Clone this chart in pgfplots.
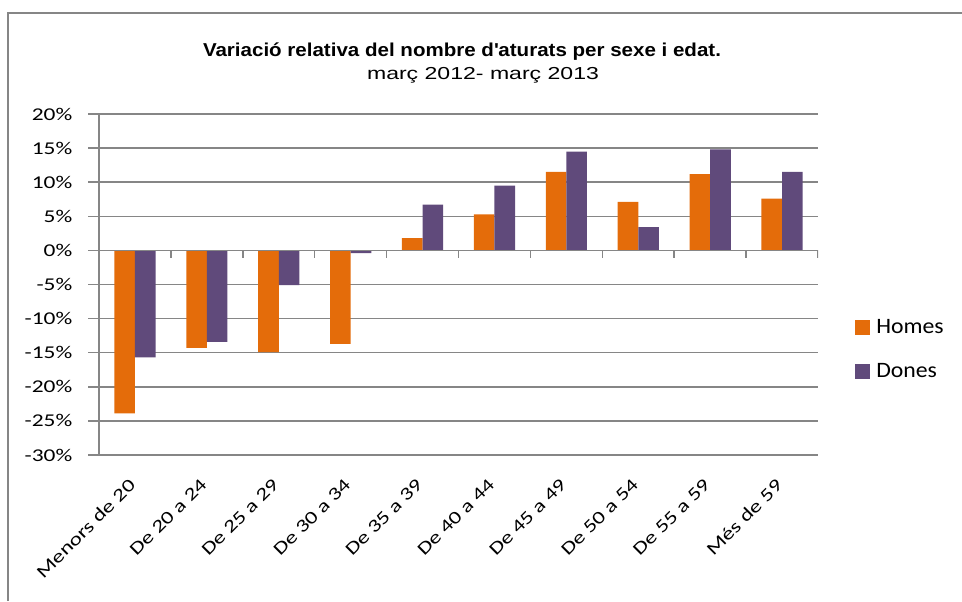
\documentclass[border=0pt]{standalone}
\usepackage{pgfplots}
\pgfplotsset{compat=1.18}
\usepackage{fontspec}
\setmainfont{Carlito}
\newfontfamily\tickf[FakeStretch=1.3]{Carlito}
\newfontfamily\legf[FakeStretch=1.08]{Carlito}
\newfontfamily\titlef[FakeStretch=1.1]{Liberation Sans}
\newfontfamily\subf[FakeStretch=1.33]{Liberation Sans}

\definecolor{homes}{RGB}{228,108,10}
\definecolor{dones}{RGB}{96,74,123}
\definecolor{gridgray}{RGB}{134,134,134}

\begin{document}
\begin{tikzpicture}
% page frame, in pixels of the reference (962 x 601)
\begin{scope}[x=0.75pt,y=-0.75pt]
  \path[use as bounding box] (0,0) rectangle (962,601);
  \draw[gridgray, line width=1.4pt] (8,601) -- (8,13) -- (962,13);
  \node[anchor=base, font=\titlef\bfseries\fontsize{14}{16}\selectfont]
    at (462,56) {Variació relativa del nombre d\textquotesingle aturats per sexe i edat.};
  \node[anchor=base, font=\subf\fontsize{13}{15}\selectfont]
    at (483,79) {març 2012- març 2013};
\end{scope}

\begin{axis}[
  at={(74.25pt,-341.25pt)}, anchor=south west,
  scale only axis,
  width=539.25pt, height=255.75pt,
  /pgfplots/ybar legend/.style={/pgfplots/legend image code/.code={%
      \fill[##1, draw=none] (0pt,-5.5pt) rectangle (11pt,5.5pt);}},
  ybar=0pt, bar width=15.45pt,
  xmin=-0.5, xmax=9.5,
  ymin=-30, ymax=20,
  axis x line*=bottom,
  axis y line*=left,
  axis line style={gridgray, line width=1.1pt},
  xtick={0,...,9},
  xticklabels={Menors de 20, De 20 a 24, De 25 a 29, De 30 a 34, De 35 a 39,
               De 40 a 44, De 45 a 49, De 50 a 54, De 55 a 59, Més de 59},
  x tick style={draw=none},
  ytick={-30,-25,...,20},
  y tick style={gridgray, line width=1.1pt},
  tick align=outside,
  major tick length=8pt,
  ymajorgrids,
  major grid style={gridgray, line width=1.1pt},
  yticklabel={\pgfmathprintnumber{\tick}\%},
  /pgf/number format/assume math mode=true,
  ticklabel style={font=\tickf\fontsize{13.5}{15}\selectfont},
  yticklabel style={xshift=-8.5pt},
  xticklabel style={xshift=-5.5pt, yshift=-5.8pt, rotate=45,
    anchor=north east, inner sep=2pt},
  legend style={at={(1.051,0.309)}, anchor=west, draw=none, fill=none,
    font=\legf\fontsize{16.5}{18}\selectfont, row sep=17pt, column sep=3pt,
    legend cell align=left, inner sep=0pt,
    nodes={inner sep=2pt}},
]
\addplot[fill=homes, draw=none] coordinates {
  (0,-23.9) (1,-14.3) (2,-14.9) (3,-13.7) (4,1.8)
  (5,5.3) (6,11.5) (7,7.1) (8,11.2) (9,7.6)};
\addplot[fill=dones, draw=none] coordinates {
  (0,-15.7) (1,-13.4) (2,-5.1) (3,-0.4) (4,6.7)
  (5,9.5) (6,14.5) (7,3.4) (8,14.8) (9,11.5)};
\legend{Homes, Dones}
\draw[gridgray, line width=1.1pt] (axis cs:-0.5,0) -- (axis cs:9.5,0);
\pgfplotsinvokeforeach{0.5,1.5,...,9.5}{
  \draw[gridgray, line width=1.1pt] (axis cs:#1,0) -- ([yshift=-5.5pt]axis cs:#1,0);
}
\end{axis}
\end{tikzpicture}
\end{document}
